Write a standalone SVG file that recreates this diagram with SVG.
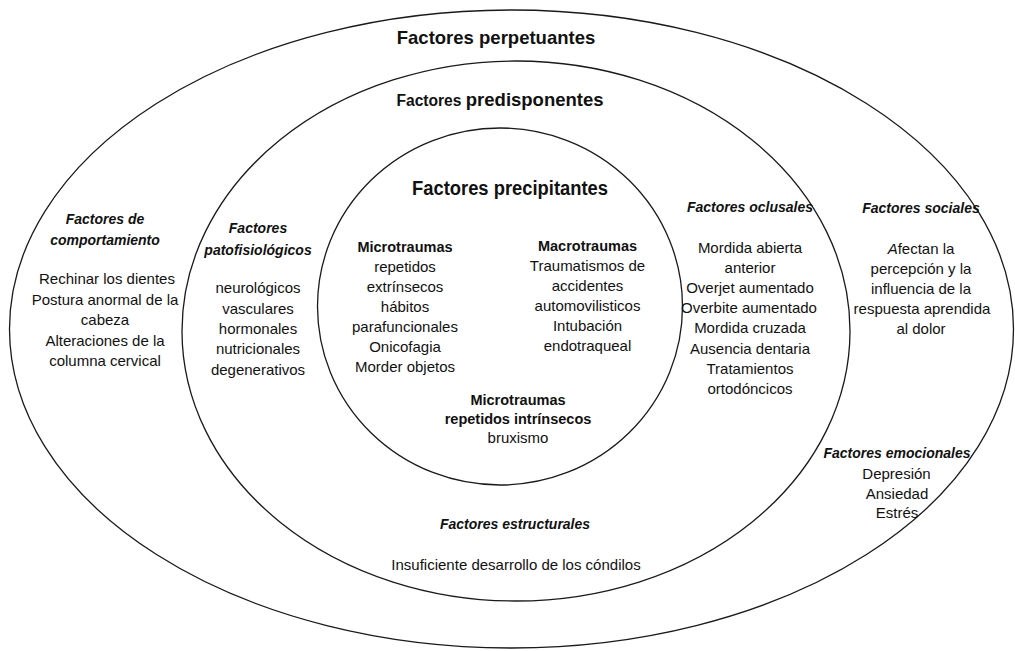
<svg xmlns="http://www.w3.org/2000/svg" width="1015" height="651" viewBox="0 0 1015 651">
<style>
.ring{fill:none;stroke:#1a1a1a;stroke-width:1.3}
text{font-family:"Liberation Sans",Arial,sans-serif;fill:#111111;text-anchor:middle}
.t{font-size:15px}
.h{font-size:14px;font-weight:bold;font-style:italic}
.b{font-size:14.5px;font-weight:bold}
.title{font-size:18.5px;font-weight:bold}
</style>
<rect width="1015" height="651" fill="#ffffff"/>
<g id="rings">
<ellipse id="ring-perpetuantes" class="ring" cx="511.5" cy="329" rx="502" ry="319"/>
<ellipse id="ring-predisponentes" class="ring" cx="516" cy="331" rx="334" ry="270"/>
<ellipse id="ring-precipitantes" class="ring" cx="500" cy="306.5" rx="182.5" ry="178.5"/>
</g>
<g id="titles">
<text class="title" x="496" y="44">Factores perpetuantes</text>
<text x="500" y="106" style="font-weight:bold"><tspan style="font-size:15.6px">Factores </tspan><tspan style="font-size:18.5px">predisponentes</tspan></text>
<text class="title" x="510" y="195" style="font-size:20px" textLength="196" lengthAdjust="spacingAndGlyphs">Factores precipitantes</text>
</g>
<g id="node-comportamiento">
<text class="h" x="105" y="224">Factores de</text>
<text class="h" x="105" y="245">comportamiento</text>
<text class="t" x="107" y="284">Rechinar los dientes</text>
<text class="t" x="105" y="304.5">Postura anormal de la</text>
<text class="t" x="105" y="325">cabeza</text>
<text class="t" x="105" y="345.5">Alteraciones de la</text>
<text class="t" x="105" y="366">columna cervical</text>
</g>
<g id="node-patofisiologicos">
<text class="h" x="258" y="233">Factores</text>
<text class="h" x="258" y="255">patofisiológicos</text>
<text class="t" x="258" y="293">neurológicos</text>
<text class="t" x="258" y="313.5">vasculares</text>
<text class="t" x="258" y="334">hormonales</text>
<text class="t" x="258" y="354">nutricionales</text>
<text class="t" x="258" y="374.5">degenerativos</text>
</g>
<g id="node-microtraumas-extrinsecos">
<text class="b" x="405" y="252">Microtraumas</text>
<text class="t" x="405" y="272">repetidos</text>
<text class="t" x="405" y="292">extrínsecos</text>
<text class="t" x="405" y="312">hábitos</text>
<text class="t" x="405" y="332">parafuncionales</text>
<text class="t" x="405" y="352">Onicofagia</text>
<text class="t" x="405" y="372">Morder objetos</text>
</g>
<g id="node-macrotraumas">
<text class="b" x="587.5" y="251">Macrotraumas</text>
<text class="t" x="587.5" y="271">Traumatismos de</text>
<text class="t" x="587.5" y="291">accidentes</text>
<text class="t" x="587.5" y="311">automovilisticos</text>
<text class="t" x="587.5" y="331">Intubación</text>
<text class="t" x="587.5" y="351">endotraqueal</text>
</g>
<g id="node-microtraumas-intrinsecos">
<text class="b" x="518" y="405">Microtraumas</text>
<text class="b" x="518" y="424">repetidos intrínsecos</text>
<text class="t" x="518" y="443">bruxismo</text>
</g>
<g id="node-oclusales">
<text class="h" x="750" y="212">Factores oclusales</text>
<text class="t" x="750" y="253">Mordida abierta</text>
<text class="t" x="750" y="273">anterior</text>
<text class="t" x="750" y="293">Overjet aumentado</text>
<text class="t" x="749" y="313">Overbite aumentado</text>
<text class="t" x="750" y="333">Mordida cruzada</text>
<text class="t" x="750" y="353.5">Ausencia dentaria</text>
<text class="t" x="750" y="373.5">Tratamientos</text>
<text class="t" x="750" y="393.5">ortodóncicos</text>
</g>
<g id="node-sociales">
<text class="h" x="921" y="213">Factores sociales</text>
<text class="t" x="921" y="254"><tspan style="font-style:italic">A</tspan>fectan la</text>
<text class="t" x="921" y="274">percepción y la</text>
<text class="t" x="921" y="294">influencia de la</text>
<text class="t" x="922" y="314">respuesta aprendida</text>
<text class="t" x="921" y="333.5">al dolor</text>
</g>
<g id="node-emocionales">
<text class="h" x="897" y="458">Factores emocionales</text>
<text class="t" x="896.5" y="479">Depresión</text>
<text class="t" x="897" y="499">Ansiedad</text>
<text class="t" x="897" y="518">Estrés</text>
</g>
<g id="node-estructurales">
<text class="h" x="515" y="529">Factores estructurales</text>
<text class="t" x="516" y="570">Insuficiente desarrollo de los cóndilos</text>
</g>
</svg>
